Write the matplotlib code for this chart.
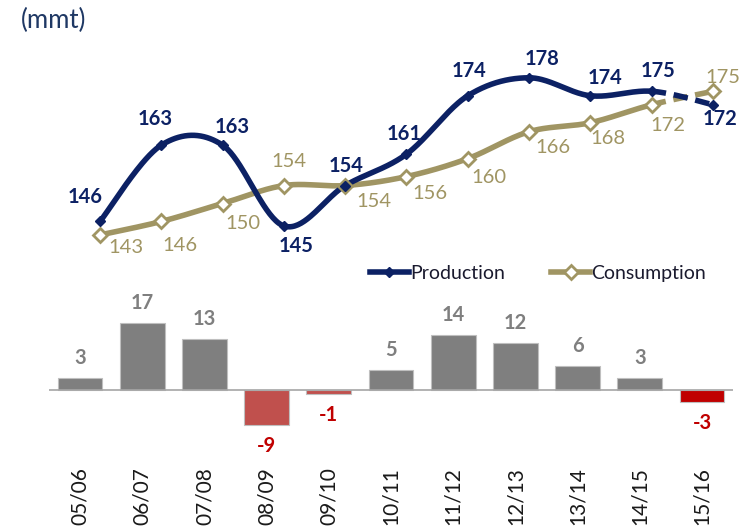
import numpy as np
import matplotlib
matplotlib.use("Agg")
import matplotlib.pyplot as plt
from matplotlib.lines import Line2D

plt.rcParams['font.family'] = ['Lato', 'DejaVu Sans']

# data
seasons = ['05/06', '06/07', '07/08', '08/09', '09/10', '10/11',
           '11/12', '12/13', '13/14', '14/15', '15/16']
production = [146, 163, 163, 145, 154, 161, 174, 178, 174, 175, 172]
consumption = [143, 146, 150, 154, 154, 156, 160, 166, 168, 172, 175]
surplus = [3, 17, 13, -9, -1, 5, 14, 12, 6, 3, -3]

# label offsets in pixels (dx, dy) from each point
prod_off = [(-15, 24), (-6, 26), (10, 18), (12, -20), (1, 20), (-2, 20),
            (1, 25), (13, 19), (15, 18), (6, 20), (7, -14)]
cons_off = [(26, -13), (19, -24), (20, -20), (5, 24), (29, -16), (23, -17),
            (21, -19), (24, -16), (18, -16), (16, -21), (10, 14)]

NAVY = '#0C2164'
KHAKI = '#A09563'
GRAY = '#7F7F7F'


def smooth(x, y, n=40):
    # excel-like smoothed line: catmull-rom bezier segments
    pts = np.column_stack([x, y]).astype(float)
    pad = np.vstack([pts[0], pts, pts[-1]])
    t = np.linspace(0, 1, n)[:, None]
    segs = []
    for i in range(len(pts) - 1):
        p0, p1, p2, p3 = pad[i], pad[i + 1], pad[i + 2], pad[i + 3]
        c1 = p1 + (p2 - p0) / 6
        c2 = p2 - (p3 - p1) / 6
        segs.append((1 - t)**3 * p1 + 3 * (1 - t)**2 * t * c1
                    + 3 * (1 - t) * t**2 * c2 + t**3 * p2)
    return segs


W, H = 748, 527
fig = plt.figure(figsize=(W / 100, H / 100), dpi=100)

# ---- top: production vs consumption lines ----
ax = fig.add_axes([0, 1 - 250 / H, 1, 210 / H])
x = np.arange(len(seasons))
ax.set_xlim(-100 / 61.3, (W - 100) / 61.3)
ax.set_ylim((877 - 250) / 4.49, (877 - 40) / 4.49)
ax.axis('off')

for vals, col, lw in [(consumption, KHAKI, 4), (production, NAVY, 4)]:
    segs = smooth(x, vals)
    solid = np.vstack(segs[:-1])
    ax.plot(solid[:, 0], solid[:, 1], color=col, lw=lw, solid_capstyle='round', zorder=2)
    ax.plot(segs[-1][:, 0], segs[-1][:, 1], color=col, lw=lw,
            linestyle=(0, (2.6, 1.4)), dash_capstyle='butt', zorder=2)

ax.plot(x, consumption, linestyle='none', marker='D', ms=7, mfc='white',
        mec=KHAKI, mew=2, zorder=3)
ax.plot(x, production, linestyle='none', marker='D', ms=5, mfc=NAVY,
        mec=NAVY, zorder=4)

for i, v in enumerate(production):
    ax.annotate(str(v), (x[i], v), xytext=prod_off[i], textcoords='offset pixels',
                ha='center', va='center', fontsize=14.5, fontweight='bold', color=NAVY)
for i, v in enumerate(consumption):
    ax.annotate(str(v), (x[i], v), xytext=cons_off[i], textcoords='offset pixels',
                ha='center', va='center', fontsize=14.5, color=KHAKI)

fig.text(21 / W, 1 - 20 / H, '(mmt)', fontsize=18.5, color='#1F3864',
         ha='left', va='center')

handles = [Line2D([], [], color=NAVY, lw=4, marker='D', ms=5, mfc=NAVY, mec=NAVY),
           Line2D([], [], color=KHAKI, lw=4, marker='D', ms=7, mfc='white', mec=KHAKI, mew=2)]
fig.legend(handles, ['Production', 'Consumption'], loc='center',
           bbox_to_anchor=(538 / W, 1 - 273 / H), ncol=2, frameon=False,
           fontsize=14, handlelength=2.0, handletextpad=0.05, columnspacing=2.4,
           labelcolor='#1A1A2E')

# ---- bottom: surplus / deficit bars ----
bx = fig.add_axes([0, 1 - 460 / H, 1, 170 / H])
bx.set_xlim(-80 / 62.2, (W - 80) / 62.2)
bx.set_ylim(-(460 - 390) / 3.93, (390 - 290) / 3.93)

colors = []
for i, v in enumerate(surplus):
    if v >= 0:
        colors.append(GRAY)
    elif i == len(surplus) - 1:
        colors.append('#C00000')
    else:
        colors.append('#C0504D')

bx.bar(x, surplus, width=0.72, color=colors, edgecolor='#BFBFBF', linewidth=0.8, zorder=2)
bx.hlines(0, -0.5, len(seasons) - 0.5, color='#A6A6A6', lw=1.2, zorder=3)

for i, v in enumerate(surplus):
    if v >= 0:
        bx.annotate(str(v), (x[i], v), xytext=(0, 20), textcoords='offset pixels',
                    ha='center', va='center', fontsize=14.5, fontweight='bold', color=GRAY)
    else:
        bx.annotate(str(v), (x[i], v), xytext=(0, -21), textcoords='offset pixels',
                    ha='center', va='center', fontsize=14.5, fontweight='bold', color='#C00000')

for s in bx.spines.values():
    s.set_visible(False)
bx.set_yticks([])
bx.set_xticks(x)
bx.set_xticklabels(seasons, rotation=90, fontsize=15, color='#1A1A1A')
bx.tick_params(axis='x', length=0, pad=5)

fig.savefig('out.png', dpi=100)
